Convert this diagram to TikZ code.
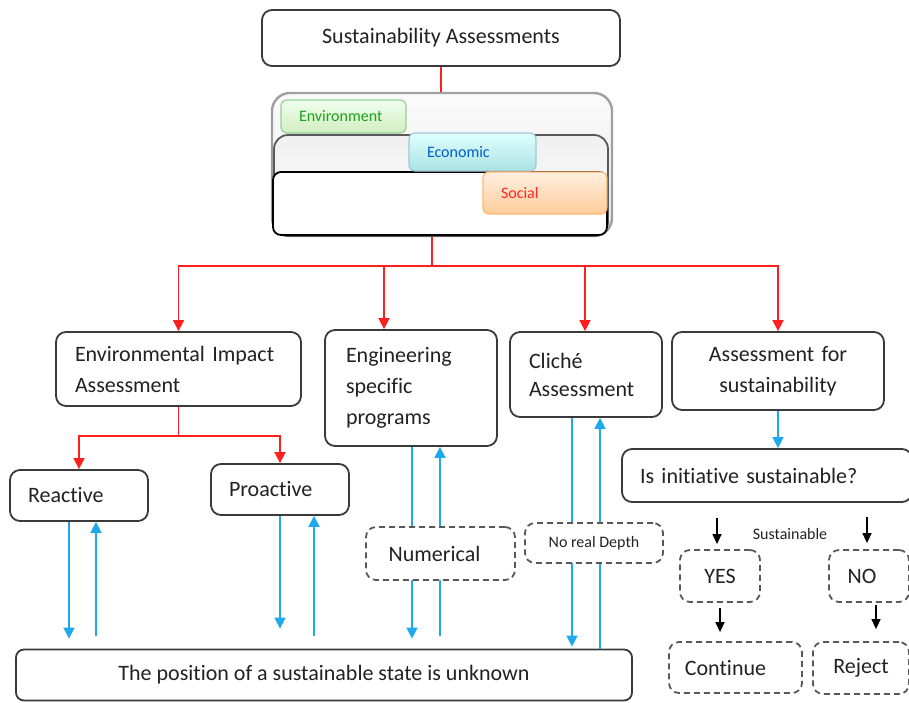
\documentclass[tikz,border=0pt]{standalone}
\usepackage{fontspec}
\setmainfont{Carlito}[Ligatures=NoCommon]
\usepackage{tikz}
\usetikzlibrary{arrows.meta}
\definecolor{linered}{HTML}{FF1F1F}
\definecolor{lineblue}{HTML}{1EA9EF}
\definecolor{boxgray}{HTML}{3A3A3A}
\definecolor{textgray}{HTML}{222222}

\begin{document}
\begin{tikzpicture}[x=0.5pt,y=-0.5pt,
		solidbox/.style={draw=boxgray,line width=0.9pt,rounded corners=5pt,fill=white,text=textgray,inner ysep=0pt,font=\fontsize{11}{15.5}\selectfont},
		dashedbox/.style={draw=boxgray!85,line width=0.9pt,dash pattern=on 3pt off 2pt,rounded corners=5pt,fill=white,text=textgray,align=center,font=\fontsize{11}{13}\selectfont},
		tab/.style={rounded corners=3pt,line width=0.6pt,align=left,inner xsep=9pt,inner ysep=0pt,font=\fontsize{8}{10}\selectfont},
		redline/.style={draw=linered,line width=0.8pt},
		redarrow/.style={redline,-{Triangle[width=5.5pt,length=5.5pt]}},
		bluearrow/.style={draw=lineblue,line width=0.8pt,-{Triangle[width=5.5pt,length=5.5pt]}},
		blackarrow/.style={draw=black,line width=0.7pt,-{Triangle[width=4.5pt,length=5pt]}}]
	\useasboundingbox (0,0) rectangle (909,702);
	% top
	\node[solidbox,align=center,minimum width=179pt,minimum height=28pt] (SUST) at (441,38) {Sustainability Assessments};
	% the three pillars
	\node[draw=gray!75,line width=1.2pt,rounded corners=9pt,top color=gray!4,bottom color=gray!14,minimum width=170pt,minimum height=71.5pt] (FRAME) at (442,164.5) {};
	\node[draw=gray!70!black,line width=0.9pt,rounded corners=7pt,top color=gray!12,bottom color=white,minimum width=167pt,minimum height=50.5pt] (BAND_ECO) at (441,185.5) {};
	\node[draw=black,line width=0.9pt,rounded corners=4pt,fill=white,minimum width=167pt,minimum height=31.5pt] (BAND_SOC) at (440,203.5) {};
	\node[tab,draw=green!35!gray!60,top color=green!6,bottom color=green!45!olive!25,text=green!60!black!90,text width=44.5pt,minimum height=16.5pt] (ENVIRONMENT) at (343.5,116.5) {Environment};
	\node[tab,draw=cyan!40!gray!60,top color=cyan!12,bottom color=cyan!50!gray!45,text=blue!55!cyan!80!black,text width=45.5pt,minimum height=19pt] (ECONOMIC) at (472.5,152) {Economic};
	\node[tab,draw=orange!55,top color=orange!12,bottom color=orange!40,text=red!85,text width=44pt,minimum height=21pt] (SOCIAL) at (545,193) {Social};
	% level of assessments
	\node[solidbox,align=left,inner xsep=9.5pt,text width=103.5pt,minimum height=37pt] (EIA) at (178.5,369) {Environmental Impact\\Assessment};
	\node[solidbox,align=left,inner xsep=10.5pt,text width=65pt,minimum height=58pt] (ENG) at (411,388) {Engineering\\specific\\programs};
	\node[solidbox,align=left,inner xsep=9.5pt,text width=57pt,minimum height=42.5pt,font=\fontsize{11}{14}\selectfont] (CLICHE) at (586,374.5) {Cliché\\Assessment};
	\node[solidbox,align=center,inner xsep=9pt,text width=88pt,minimum height=39pt] (AFS) at (778,371) {Assessment for\\sustainability};
	\node[solidbox,align=left,inner xsep=9pt,text width=51pt,minimum height=25.5pt] (REACTIVE) at (79,495.5) {Reactive};
	\node[solidbox,align=left,inner xsep=9pt,text width=51pt,minimum height=25.5pt] (PROACTIVE) at (280,489.5) {Proactive};
	\node[solidbox,align=left,inner xsep=9pt,text width=127pt,minimum height=26.5pt] (IS) at (767,475.5) {Is initiative sustainable?};
	\node[solidbox,align=center,rounded corners=4pt,minimum width=308pt,minimum height=25.5pt] (BOTTOM) at (324,675) {The position of a sustainable state is unknown};
	% red tree
	\coordinate (HUB) at (432,266);
	\coordinate (EIA_SPLIT) at (178.5,436);
	\draw[redline] (SUST.south) -- (SUST.south |- FRAME.north);
	\draw[redline] (FRAME.south -| HUB) -- (HUB);
	\draw[redarrow] (HUB) -| (EIA.north);
	\draw[redarrow] (HUB) -| ([xshift=-13.5pt]ENG.north);
	\draw[redarrow] (HUB) -| ([xshift=-0.5pt]CLICHE.north);
	\draw[redarrow] (HUB) -| (AFS.north);
	\draw[redline] (EIA.south) -- (EIA_SPLIT);
	\draw[redarrow] (EIA_SPLIT) -| (REACTIVE.north);
	\draw[redarrow] (EIA_SPLIT) -| (PROACTIVE.north);
	% blue feedback
	\draw[bluearrow,shorten >=5pt] ([xshift=-5pt]REACTIVE.south) -- ([xshift=-5pt]REACTIVE.south |- BOTTOM.north);
	\draw[bluearrow,shorten <=6.5pt] ([xshift=8.5pt]REACTIVE.south |- BOTTOM.north) -- ([xshift=8.5pt]REACTIVE.south);
	\draw[bluearrow,shorten >=10pt] (PROACTIVE.south) -- (PROACTIVE.south |- BOTTOM.north);
	\draw[bluearrow,shorten <=6.5pt] ([xshift=17pt]PROACTIVE.south |- BOTTOM.north) -- ([xshift=17pt]PROACTIVE.south);
	\draw[bluearrow,shorten >=5pt] ([xshift=0.5pt]ENG.south) -- ([xshift=0.5pt]ENG.south |- BOTTOM.north);
	\draw[bluearrow,shorten <=6.5pt] ([xshift=14.5pt]ENG.south |- BOTTOM.north) -- ([xshift=14.5pt]ENG.south);
	\draw[bluearrow,shorten >=1pt] ([xshift=-7pt]CLICHE.south) -- ([xshift=-7pt]CLICHE.south |- BOTTOM.north);
	\draw[bluearrow] ([xshift=7pt]CLICHE.south |- BOTTOM.north) -- ([xshift=7pt]CLICHE.south);
	\draw[bluearrow] (AFS.south) -- (AFS.south |- IS.north);
	\node[dashedbox,minimum width=74.5pt,minimum height=26.5pt] (NUMERICAL) at (440.5,553.5) {\hspace*{-6pt}Numerical};
	\node[dashedbox,minimum width=69pt,minimum height=20pt,font=\fontsize{8}{10}\selectfont] (DEPTH) at (594,543) {No real Depth};
	% decision
	\node[dashedbox,minimum width=40pt,minimum height=26pt] (YES) at (720,576) {YES};
	\node[dashedbox,minimum width=40pt,minimum height=26pt] (NO) at (869,576) {\hspace*{-7pt}NO};
	\node[dashedbox,minimum width=66.5pt,minimum height=25.5pt] (CONTINUE) at (735.5,667.5) {\hspace*{-10pt}Continue};
	\node[dashedbox,minimum width=48pt,minimum height=26pt] (REJECT) at (861,668) {Reject};
	\node[text=textgray,font=\fontsize{8}{10}\selectfont] (SUSTLABEL) at (790,534) {Sustainable};
	\draw[blackarrow,shorten <=7.5pt,shorten >=2.5pt] ([xshift=-1.5pt]YES.north |- IS.south) -- ([xshift=-1.5pt]YES.north);
	\draw[blackarrow,shorten <=7pt,shorten >=3pt] ([xshift=-1pt]NO.north |- IS.south) -- ([xshift=-1pt]NO.north);
	\draw[blackarrow,shorten <=2.5pt,shorten >=4.5pt] (YES.south) -- (YES.south |- CONTINUE.north);
	\draw[blackarrow,shorten <=1pt,shorten >=6pt] ([xshift=3.5pt]NO.south) -- ([xshift=3.5pt]NO.south |- REJECT.north);
\end{tikzpicture}
\end{document}
